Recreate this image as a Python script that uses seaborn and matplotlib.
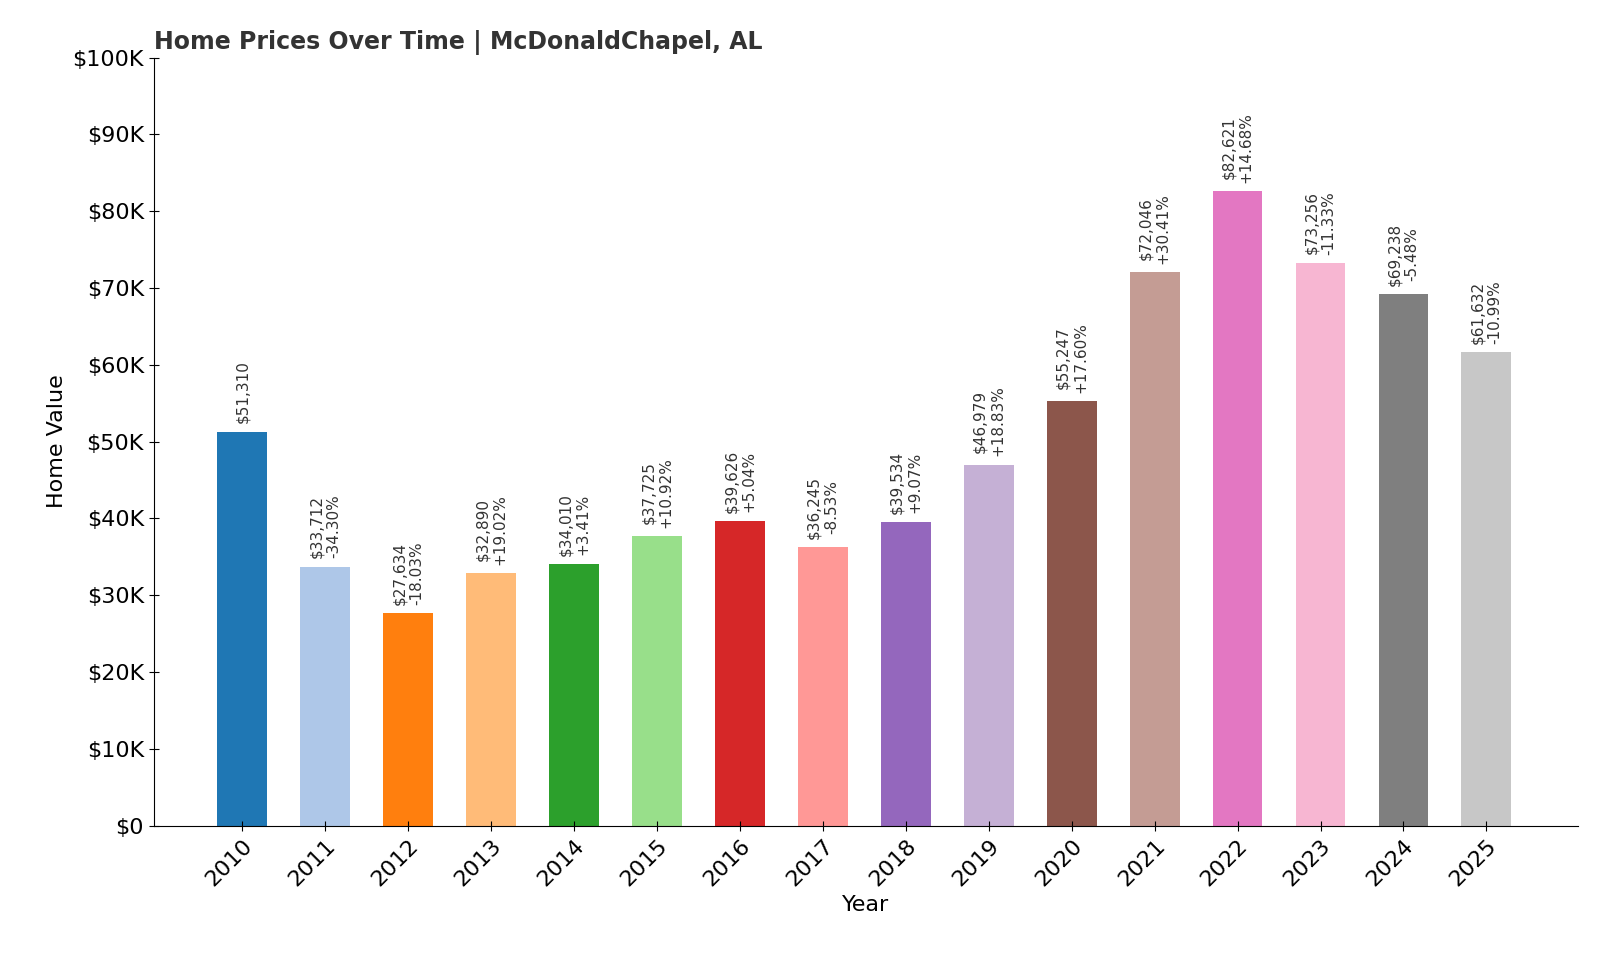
import matplotlib
matplotlib.use("Agg")
import matplotlib.pyplot as plt
import seaborn as sns
import pandas as pd

years = ["2010", "2011", "2012", "2013", "2014", "2015", "2016", "2017",
         "2018", "2019", "2020", "2021", "2022", "2023", "2024", "2025"]
values = [51310, 33712, 27634, 32890, 34010, 37725, 39626, 36245,
          39534, 46979, 55247, 72046, 82621, 73256, 69238, 61632]
changes = [None, "-34.30%", "-18.03%", "+19.02%", "+3.41%", "+10.92%", "+5.04%", "-8.53%",
           "+9.07%", "+18.83%", "+17.60%", "+30.41%", "+14.68%", "-11.33%", "-5.48%", "-10.99%"]

df = pd.DataFrame({"Year": years, "Value": values})
colors = plt.get_cmap("tab20").colors[:len(years)]

fig = plt.figure(figsize=(16, 9.6), dpi=100)
ax = fig.add_axes([0.096, 0.14, 0.89, 0.8])
sns.barplot(data=df, x="Year", y="Value", hue="Year", palette=list(colors),
            width=0.6, legend=False, ax=ax, saturation=1)

for i, v in enumerate(values):
    txt = f"${v:,}" if changes[i] is None else f"${v:,}\n{changes[i]}"
    ax.annotate(txt, (i, v), xytext=(0, 6), textcoords="offset points",
                rotation=90, ha="center", va="bottom", fontsize=11, color="#333333")

ax.set_xlim(-1.07, 16.1)
ax.set_ylim(0, 100000)
ax.set_yticks(range(0, 100001, 10000))
ax.set_yticklabels(["$0"] + [f"${k}K" for k in range(10, 101, 10)])
ax.tick_params(axis="both", labelsize=16, direction="inout", length=7)
plt.setp(ax.get_xticklabels(), rotation=45, ha="right", rotation_mode="anchor")
ax.set_xlabel("Year", fontsize=16)
ax.set_ylabel("Home Value", fontsize=16)
ax.set_title("Home Prices Over Time | McDonaldChapel, AL", loc="left",
             fontsize=17, fontweight="bold", color="#333333")
ax.spines["top"].set_visible(False)
ax.spines["right"].set_visible(False)

fig.savefig("out.png", dpi=100)
plt.close(fig)
